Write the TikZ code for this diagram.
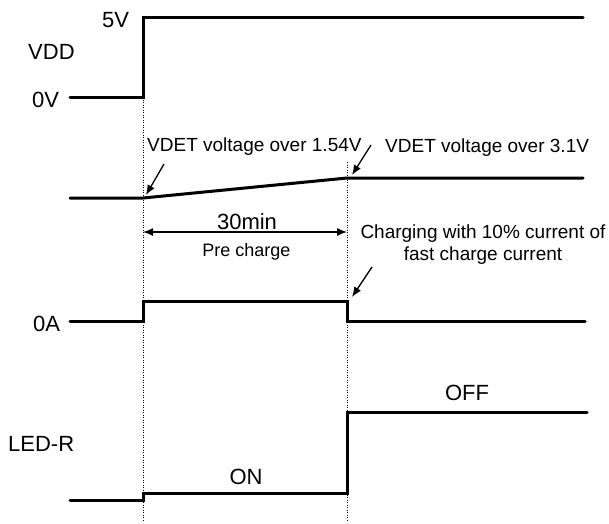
\documentclass[tikz,border=0pt]{standalone}
\usepackage{fontspec}
\setmainfont{Liberation Sans}
\usetikzlibrary{arrows.meta}
\begin{document}
\begin{tikzpicture}[x=1pt,y=-1pt,
  sig/.style={line width=3pt,line join=miter,line cap=round},
  guide/.style={line width=0.8pt,dash pattern=on 1pt off 1.5pt},
  pointer/.style={line width=1.3pt,-{Latex[length=10pt,width=8pt]}},
  big/.style={font=\fontsize{22}{26}\selectfont,inner sep=0pt},
  mid/.style={font=\fontsize{19}{22}\selectfont,inner sep=0pt},
  small/.style={font=\fontsize{18}{21}\selectfont,inner sep=0pt}]
\useasboundingbox (0,0) rectangle (609,523);
% labels
\node[big,anchor=base west] (v5) at (102,27) {5V};
\node[big,anchor=base west] (vdd) at (28,59) {VDD};
\node[big,anchor=base west] (v0) at (32,107) {0V};
\node[mid,anchor=base west] (det1) at (147,151) {VDET voltage over 1.54V};
\node[mid,anchor=base west] (det2) at (385,152) {VDET voltage over 3.1V};
\node[big,anchor=base] (min) at (247,229) {30min};
\node[small,anchor=base] (pre) at (246.5,256) {Pre charge};
\node[mid,anchor=base,align=center] (chg) at (483,260) {Charging with 10\% current of\\[0pt]fast charge current};
\node[big,anchor=base west] (a0) at (33,331) {0A};
\node[big,anchor=base west] (led) at (8,451) {LED-R};
\node[big,anchor=base] (on) at (246,484) {ON};
\node[big,anchor=base] (off) at (467,400) {OFF};
% guides
\coordinate (g1t) at (143,97);
\coordinate (g1b) at (143,522);
\coordinate (g2t) at (347,162);
\coordinate (g2b) at (347,522);
\draw[guide] (g1t) -- (g1b);
\draw[guide] (g2t) -- (g2b);
% VDD
\draw[sig] (70,97) -- (143,97) -- (143,17) -- (583,17);
% VDET
\coordinate (d1) at (143,198);
\coordinate (d2) at (347,178);
\draw[sig] (70,198) -- (d1) -- (d2) -- (583,178);
% current
\coordinate (c2) at (347,301);
\draw[sig] (70,321) -- (143,321) -- (143,301) -- (c2) -- (347,321) -- (585,321);
% LED
\draw[sig] (70,500) -- (143,500) -- (143,493) -- (347,493) -- (347,412) -- (587,412);
% pointers
\coordinate (p1s) at (164,164);
\coordinate (p1e) at (146,195);
\coordinate (p2s) at (371,145);
\coordinate (p2e) at (352,175);
\coordinate (p3s) at (372,267);
\coordinate (p3e) at (352,297);
\draw[pointer] (p1s) -- (p1e);
\draw[pointer] (p2s) -- (p2e);
\draw[pointer] (p3s) -- (p3e);
% 30 min span
\coordinate (s1) at (143,232);
\coordinate (s2) at (347,232);
\draw[line width=1.3pt,{Latex[length=10pt,width=8pt]}-{Latex[length=10pt,width=8pt]}] (s1) -- (s2);
\end{tikzpicture}
\end{document}
